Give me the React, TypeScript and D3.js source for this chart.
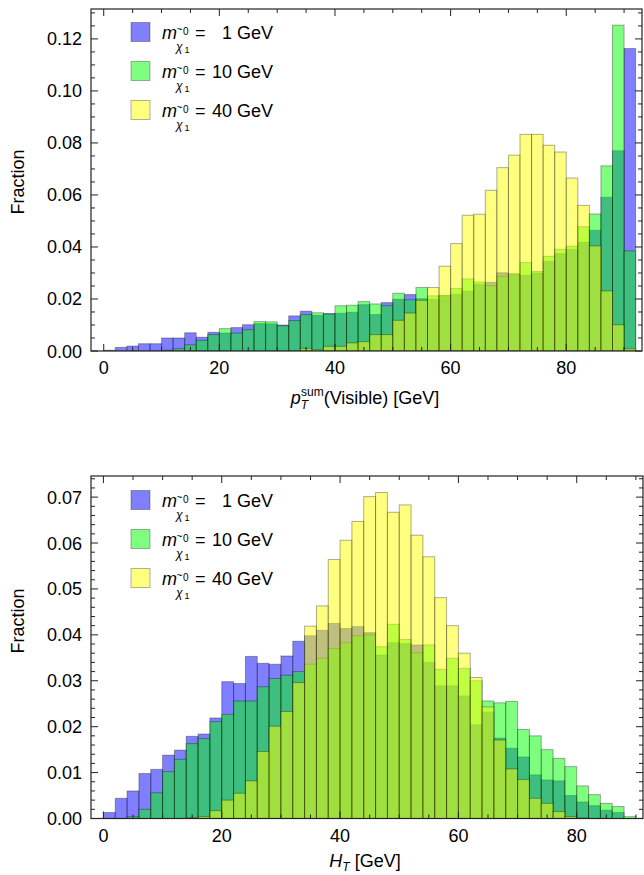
import React from 'react';
import * as d3 from 'd3';

// bin width is 2 GeV, bins start at 0
const BIN = 2;

// top panel: p_T^sum(Visible)
const ptBlue = [0.0003, 0.0014, 0.0019, 0.0028, 0.0028, 0.0050, 0.0050, 0.0070, 0.0053, 0.0072,
  0.0069, 0.0090, 0.0101, 0.0105, 0.0104, 0.0100, 0.0135, 0.0153, 0.0137, 0.0144,
  0.0145, 0.0149, 0.0178, 0.0140, 0.0186, 0.0199, 0.0217, 0.0201, 0.0199, 0.0212,
  0.0218, 0.0230, 0.0256, 0.0264, 0.0301, 0.0295, 0.0291, 0.0300, 0.0345, 0.0374,
  0.0390, 0.0418, 0.0464, 0.0591, 0.0770, 0.1163];
const ptGreen = [0, 0, 0, 0, 0, 0.0003, 0.0009, 0.0024, 0.0041, 0.0063,
  0.0086, 0.0069, 0.0082, 0.0113, 0.0112, 0.0097, 0.0117, 0.0140, 0.0147, 0.0142,
  0.0174, 0.0176, 0.0190, 0.0181, 0.0174, 0.0222, 0.0197, 0.0244, 0.0212, 0.0214,
  0.0240, 0.0277, 0.0265, 0.0251, 0.0287, 0.0297, 0.0340, 0.0306, 0.0364, 0.0391,
  0.0403, 0.0478, 0.0527, 0.0712, 0.1253, 0.0385];
const ptYellow = [0, 0, 0, 0, 0, 0, 0, 0, 0, 0,
  0, 0, 0, 0, 0, 0, 0, 0.0010, 0.0005, 0.0018,
  0.0018, 0.0031, 0.0036, 0.0063, 0.0063, 0.0118, 0.0146, 0.0195, 0.0244, 0.0326,
  0.0413, 0.0522, 0.0526, 0.0618, 0.0705, 0.0753, 0.0833, 0.0833, 0.0791, 0.0765,
  0.0665, 0.0560, 0.0404, 0.0231, 0.0101, 0.0009];

// bottom panel: H_T
const htBlue = [0.0013, 0.0044, 0.0060, 0.0098, 0.0107, 0.0138, 0.0149, 0.0179, 0.0184, 0.0219,
  0.0298, 0.0294, 0.0353, 0.0338, 0.0336, 0.0354, 0.0386, 0.0398, 0.0410, 0.0425,
  0.0414, 0.0418, 0.0405, 0.0356, 0.0383, 0.0381, 0.0378, 0.0340, 0.0289, 0.0289,
  0.0267, 0.0204, 0.0232, 0.0175, 0.0153, 0.0134, 0.0095, 0.0084, 0.0082, 0.0050,
  0.0036, 0.0028, 0.0018, 0.0013, 0];
const htGreen = [0, 0, 0.0004, 0.0020, 0.0056, 0.0102, 0.0129, 0.0163, 0.0174, 0.0211,
  0.0227, 0.0256, 0.0256, 0.0287, 0.0305, 0.0312, 0.0320, 0.0336, 0.0349, 0.0370,
  0.0383, 0.0398, 0.0400, 0.0374, 0.0423, 0.0390, 0.0361, 0.0378, 0.0325, 0.0349,
  0.0327, 0.0300, 0.0256, 0.0252, 0.0255, 0.0194, 0.0180, 0.0150, 0.0131, 0.0113,
  0.0071, 0.0052, 0.0033, 0.0026, 0.0004];
const htYellow = [0, 0, 0, 0, 0, 0, 0, 0.0002, 0.0004, 0.0017,
  0.0040, 0.0055, 0.0082, 0.0146, 0.0201, 0.0233, 0.0296, 0.0419, 0.0463, 0.0564,
  0.0606, 0.0647, 0.0701, 0.0710, 0.0667, 0.0683, 0.0617, 0.0570, 0.0481, 0.0420,
  0.0360, 0.0307, 0.0243, 0.0171, 0.0108, 0.0085, 0.0044, 0.0033, 0.0015, 0.0004,
  0.0001, 0, 0, 0, 0];

const masses = ['1', '10', '40'];
const colors = ['#0000ff', '#00ff00', '#ffff00'];
const FONT = '"Liberation Sans", Arial, sans-serif';

interface PanelProps {
  series: number[][];
  xDomain: [number, number];
  yDomain: [number, number];
  top: number;
  bottom: number;
  right: number;
  yMajor: number;
  yMinor: number;
  title: React.ReactNode;
  fracY: number;
}

const LEFT = 91;

function Legend({ y0 }: { y0: number }) {
  return (
    <g fontFamily={FONT} fontSize={18} fill="#000">
      {masses.map((m, i) => {
        const cy = y0 + i * 39;
        const base = cy + 7;
        return (
          <g key={m}>
            <rect x={131} y={cy - 9.5} width={19} height={19} fill={colors[i]} fillOpacity={0.5}
              stroke="#000" strokeOpacity={0.3} strokeWidth={1} />
            <text x={162} y={base} fontStyle="italic">m</text>
            <text x={176} y={base + 12} fontStyle="italic" fontSize={12}>χ</text>
            <text x={176.5} y={base - 6} fontSize={10}>~</text>
            <text x={184.5} y={base + 14} fontSize={9}>1</text>
            <text x={183} y={base - 4} fontSize={10}>0</text>
            <text x={195} y={base}>=</text>
            <text x={273} y={base} textAnchor="end">{m} GeV</text>
          </g>
        );
      })}
    </g>
  );
}

function Panel({ series, xDomain, yDomain, top, bottom, right, yMajor, yMinor, title, fracY }: PanelProps) {
  const x = d3.scaleLinear().domain(xDomain).range([LEFT, right]);
  const y = d3.scaleLinear().domain(yDomain).range([bottom, top]);

  const xTicks = d3.range(0, 91, 5);
  const nMinor = Math.floor(yDomain[1] / yMinor + 1e-6);
  const yTicks = d3.range(0, nMinor + 1).map(i => i * yMinor);
  const ratio = Math.round(yMajor / yMinor);
  const fmt = d3.format('.2f');

  return (
    <g>
      <defs>
        <clipPath id={`clip${top}`}>
          <rect x={LEFT} y={top} width={right - LEFT} height={bottom - top} />
        </clipPath>
      </defs>
      <g clipPath={`url(#clip${top})`}>
        {series.map((vals, s) => (
          <g key={s}>
            {vals.map((v, k) => v > 0 ? (
              <rect key={k}
                x={x(k * BIN)} width={x((k + 1) * BIN) - x(k * BIN)}
                y={y(v)} height={y(0) - y(v)}
                fill={colors[s]} fillOpacity={0.5}
                stroke="#000" strokeOpacity={0.32} strokeWidth={1} />
            ) : null)}
          </g>
        ))}
      </g>
      {/* frame */}
      <rect x={LEFT} y={top} width={right - LEFT} height={bottom - top} fill="none" stroke="#222" strokeWidth={1.2} />
      {xTicks.map(t => {
        const len = t % 20 === 0 ? 7 : 4;
        return (
          <g key={t} stroke="#222" strokeWidth={1}>
            <line x1={x(t)} x2={x(t)} y1={bottom} y2={bottom - len} />
            <line x1={x(t)} x2={x(t)} y1={top} y2={top + len} />
          </g>
        );
      })}
      {yTicks.map((t, i) => {
        const len = i % ratio === 0 ? 7 : 4;
        return (
          <g key={i} stroke="#222" strokeWidth={1}>
            <line x1={LEFT} x2={LEFT + len} y1={y(t)} y2={y(t)} />
            <line x1={right} x2={right - len} y1={y(t)} y2={y(t)} />
          </g>
        );
      })}
      <g fontFamily={FONT} fontSize={18} fill="#000">
        {xTicks.filter(t => t % 20 === 0).map(t => (
          <text key={t} x={x(t)} y={bottom + 23} textAnchor="middle">{t}</text>
        ))}
        {yTicks.filter((_, i) => i % ratio === 0).map(t => (
          <text key={t} x={LEFT - 9} y={y(t) + 6.5} textAnchor="end">{fmt(t)}</text>
        ))}
        <text transform={`translate(24,${fracY}) rotate(-90)`} textAnchor="middle">Fraction</text>
        {title}
      </g>
    </g>
  );
}

export default function App() {
  return (
    <svg width={644} height={875} style={{ position: 'absolute', left: 0, top: 0, background: '#fff' }}>
      <Panel
        series={[ptBlue, ptGreen, ptYellow]}
        xDomain={[-2.2, 93.1]} yDomain={[0, 0.1315]}
        top={9} bottom={351} right={642}
        yMajor={0.02} yMinor={0.005} fracY={182}
        title={
          <text x={365} y={404} textAnchor="middle">
            <tspan fontStyle="italic">p</tspan>
            <tspan fontStyle="italic" fontSize={12} dy={5}>T</tspan>
            <tspan fontSize={12} dx={-7} dy={-13}>sum</tspan>
            <tspan dy={8}>(Visible) [GeV]</tspan>
          </text>
        }
      />
      <Legend y0={32} />
      <Panel
        series={[htBlue, htGreen, htYellow]}
        xDomain={[-2.1, 91.2]} yDomain={[0, 0.0746]}
        top={476} bottom={818.5} right={643}
        yMajor={0.01} yMinor={0.002} fracY={621}
        title={
          <text x={365} y={867} textAnchor="middle">
            <tspan fontStyle="italic">H</tspan>
            <tspan fontStyle="italic" fontSize={12} dy={4}>T</tspan>
            <tspan dy={-4}> [GeV]</tspan>
          </text>
        }
      />
      <Legend y0={500} />
    </svg>
  );
}
